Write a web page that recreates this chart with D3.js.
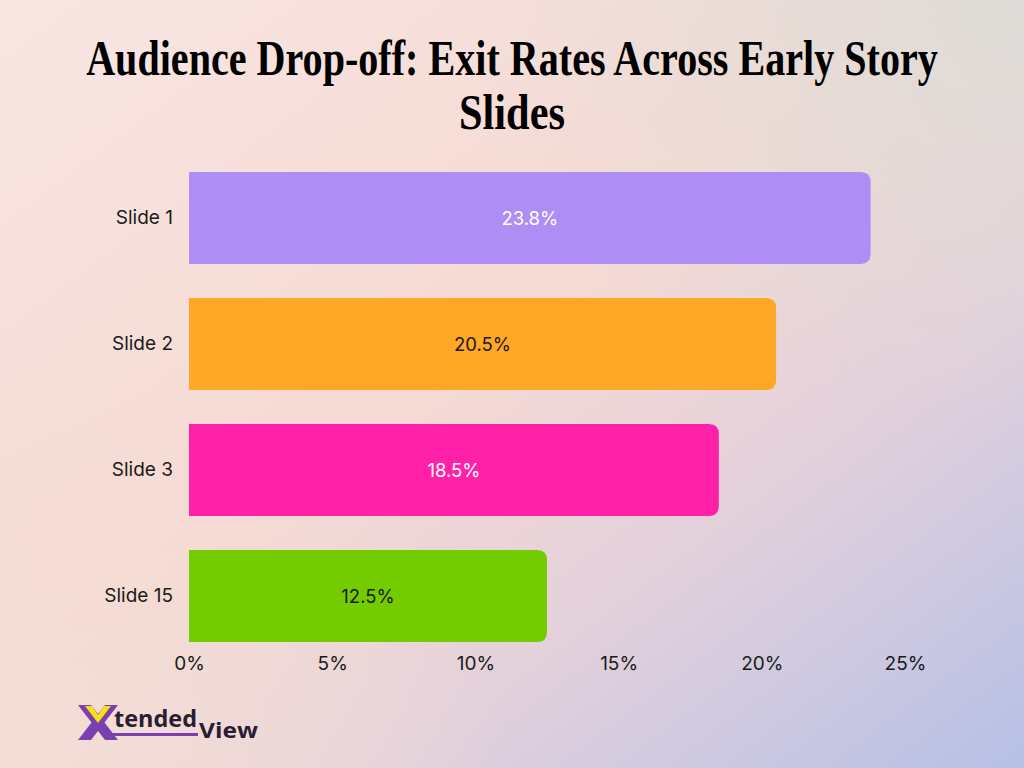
<!DOCTYPE html>
<html>
<head>
<meta charset="utf-8">
<script src="https://cdn.jsdelivr.net/npm/d3@7"></script>
<style>
  html, body { margin: 0; padding: 0; }
  body { width: 1024px; height: 768px; overflow: hidden; }
  text { font-family: Inter, 'Noto Sans', sans-serif; }
</style>
</head>
<body>
<div id="chart"></div>
<script>
const slides = ['Slide 1', 'Slide 2', 'Slide 3', 'Slide 15']
const exitRates = [23.8, 20.5, 18.5, 12.5]
const barColors = ['#ae8ef4', '#ffa726', '#ff22a8', '#72cc00']
const labelColors = ['#ffffff', '#1a1a1a', '#ffffff', '#1a1a1a']
const xTicks = [0, 5, 10, 15, 20, 25]
const titleLines = ['Audience Drop-off: Exit Rates Across Early Story', 'Slides']

const width = 1024
const height = 768

const svg = d3
  .select('#chart')
  .append('svg')
  .attr('width', width)
  .attr('height', height)

const defs = svg.append('defs')

// background: soft pink -> lavender
const bg = defs
  .append('linearGradient')
  .attr('id', 'bg')
  .attr('x1', 0).attr('y1', 0)
  .attr('x2', 1).attr('y2', 1)
bg.append('stop').attr('offset', '0%').attr('stop-color', '#f8e6e3')
bg.append('stop').attr('offset', '45%').attr('stop-color', '#f6dad3')
bg.append('stop').attr('offset', '70%').attr('stop-color', '#e2d0dc')
bg.append('stop').attr('offset', '100%').attr('stop-color', '#b6c0e6')

const corner = defs
  .append('radialGradient')
  .attr('id', 'corner')
  .attr('cx', 1).attr('cy', 0).attr('r', 0.55)
corner.append('stop').attr('offset', '0%').attr('stop-color', '#dedcd8').attr('stop-opacity', 1)
corner.append('stop').attr('offset', '100%').attr('stop-color', '#dedcd8').attr('stop-opacity', 0)

const cornerBL = defs
  .append('radialGradient')
  .attr('id', 'cornerBL')
  .attr('cx', 0).attr('cy', 1).attr('r', 0.5)
cornerBL.append('stop').attr('offset', '0%').attr('stop-color', '#f3ded6').attr('stop-opacity', 1)
cornerBL.append('stop').attr('offset', '100%').attr('stop-color', '#f3ded6').attr('stop-opacity', 0)

svg.append('rect').attr('width', width).attr('height', height).attr('fill', 'url(#bg)')
svg.append('rect').attr('width', width).attr('height', height).attr('fill', 'url(#corner)')
svg.append('rect').attr('width', width).attr('height', height).attr('fill', 'url(#cornerBL)')

// title - condensed display serif, squeezed horizontally to fit
const titleWidths = [852, 106]
titleLines.forEach((line, i) => {
  const g = svg.append('g')
  const t = g
    .append('text')
    .attr('class', 'title')
    .attr('x', 0)
    .attr('y', 0)
    .attr('text-anchor', 'middle')
    .style('font-family', "'Liberation Serif', 'DejaVu Serif', serif")
    .style('font-weight', 700)
    .style('font-size', '50px')
    .style('fill', '#000')
    .text(line)
  const w = t.node().getComputedTextLength()
  const sx = titleWidths[i] / w
  g.attr('transform', `translate(512,${75 + i * 54}) scale(${sx},1)`)
})

// scales
const x = d3.scaleLinear().domain([0, 25]).range([189, 905])
const y = d3
  .scaleBand()
  .domain(slides)
  .range([155, 659])
  .paddingInner(0.27)
  .paddingOuter(0.135)

const data = slides.map((s, i) => ({ slide: s, value: exitRates[i], color: barColors[i], label: labelColors[i] }))

// bars: square on the left, rounded on the right
function barPath(d) {
  const x0 = x(0)
  const x1 = x(d.value)
  const y0 = y(d.slide)
  const h = y.bandwidth()
  const r = 10
  return `M${x0},${y0}H${x1 - r}Q${x1},${y0} ${x1},${y0 + r}V${y0 + h - r}Q${x1},${y0 + h} ${x1 - r},${y0 + h}H${x0}Z`
}

svg
  .selectAll('.bar')
  .data(data)
  .enter()
  .append('path')
  .attr('class', 'bar')
  .attr('d', barPath)
  .attr('fill', d => d.color)

svg
  .selectAll('.value-label')
  .data(data)
  .enter()
  .append('text')
  .attr('class', 'value-label')
  .attr('x', d => (x(0) + x(d.value)) / 2)
  .attr('y', d => y(d.slide) + y.bandwidth() / 2)
  .attr('dy', '0.36em')
  .attr('text-anchor', 'middle')
  .style('font-size', '18.5px')
  .style('fill', d => d.label)
  .text(d => d.value.toFixed(1) + '%')

// category labels
const yAxis = d3.axisLeft(y).tickSize(0).tickPadding(16)
const yG = svg.append('g').attr('transform', `translate(${x(0)},0)`).call(yAxis)
yG.select('.domain').remove()
yG.selectAll('text').style('font-size', '19px').style('fill', '#1a1a1a').style('font-family', "Inter, 'Noto Sans', sans-serif")

// x axis labels
const xAxis = d3.axisBottom(x).tickValues(xTicks).tickSize(0).tickPadding(12).tickFormat(d => d + '%')
const xG = svg.append('g').attr('transform', 'translate(0,645)').call(xAxis)
xG.select('.domain').remove()
xG.selectAll('text').style('font-size', '19px').style('fill', '#1a1a1a').style('font-family', "Inter, 'Noto Sans', sans-serif")

// logo
const logo = svg.append('g').attr('transform', 'translate(78,704)')
logo.append('path')
  .attr('d', 'M0,1 L13,1 L40,36 L27,36 Z M27,1 L40,1 L13,36 L0,36 Z')
  .attr('fill', '#7b3fb0')
logo.append('path')
  .attr('d', 'M7,2 L14,2 L20,11 L26,2 L33,2 L20,19 Z')
  .attr('fill', '#f5e21a')
logo.append('rect').attr('x', 30).attr('y', 29).attr('width', 90).attr('height', 3).attr('fill', '#7b3fb0')
logo.append('text')
  .attr('x', 36).attr('y', 23)
  .attr('textLength', 83)
  .attr('lengthAdjust', 'spacingAndGlyphs')
  .style('font-family', "'Open Sans', sans-serif")
  .style('font-weight', 700)
  .style('font-size', '24px')
  .style('fill', '#2a1d33')
  .text('tended')
logo.append('text')
  .attr('x', 121).attr('y', 34)
  .attr('textLength', 59)
  .attr('lengthAdjust', 'spacingAndGlyphs')
  .style('font-family', "'Open Sans', sans-serif")
  .style('font-weight', 700)
  .style('font-size', '22px')
  .style('fill', '#2a1d33')
  .text('View')
</script>
</body>
</html>
